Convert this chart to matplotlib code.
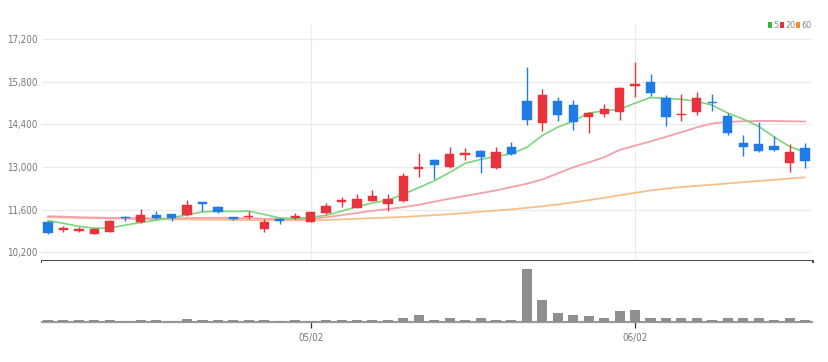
import matplotlib
matplotlib.use("Agg")
import matplotlib.pyplot as plt
from matplotlib.patches import Rectangle
import numpy as np

# ---------------- data ----------------
opens = [11210, 10930, 10910, 10810, 10860, 11370, 11210, 11420, 11450, 11430,
         11850, 11680, 11350, 11350, 10970, 11300, 11310, 11210, 11490, 11850,
         11670, 11890, 11780, 11870, 12940, 13230, 12990, 13400, 13530, 12960,
         13670, 15150, 14440, 15150, 15040, 14650, 14740, 14820, 15670, 15780,
         15260, 14690, 14800, 15130, 14680, 13800, 13750, 13700, 13120, 13620]
highs = [11240, 11070, 11040, 10990, 11250, 11400, 11630, 11570, 11460, 11920,
         11860, 11720, 11370, 11540, 11290, 11310, 11480, 11530, 11830, 12010,
         12120, 12250, 12120, 12800, 13450, 13260, 13670, 13620, 13550, 13670,
         13830, 16290, 15550, 15290, 15190, 14800, 15080, 15620, 16440, 16040,
         15370, 15390, 15450, 15390, 14760, 14050, 14490, 14030, 13750, 13780]
lows = [10800, 10850, 10850, 10790, 10850, 11230, 11170, 11300, 11240, 11400,
        11570, 11500, 11270, 11290, 10880, 11130, 11300, 11200, 11470, 11700,
        11650, 11880, 11560, 11860, 12670, 12600, 12980, 13230, 12800, 12950,
        13400, 14380, 14180, 14520, 14220, 14130, 14630, 14540, 15310, 15340,
        14350, 14520, 14690, 14840, 14050, 13370, 13500, 13510, 12850, 12960]
closes = [10830, 10990, 10950, 10960, 11240, 11320, 11420, 11330, 11330, 11760,
          11800, 11520, 11290, 11390, 11210, 11230, 11400, 11510, 11720, 11890,
          11940, 12050, 11940, 12710, 12980, 13050, 13420, 13440, 13340, 13500,
          13430, 14540, 15370, 14690, 14490, 14760, 14910, 15600, 15710, 15420,
          14630, 14730, 15280, 15090, 14110, 13650, 13530, 13560, 13500, 13180]
prior_closes = [11440, 11440, 11260, 11230]   # closes before the visible window (for MA5)

volumes = [45, 45, 45, 45, 45, 15, 45, 45, 15, 75,
           45, 45, 45, 45, 45, 15, 45, 15, 45, 60,
           60, 60, 60, 108, 183, 60, 108, 60, 108, 60,
           60, 1335, 543, 233, 183, 150, 108, 268, 300, 108,
           108, 108, 108, 60, 100, 108, 108, 60, 100, 60]

ma20 = [11380, 11370, 11350, 11340, 11330, 11320, 11320, 11310, 11310, 11320,
        11330, 11330, 11320, 11320, 11300, 11290, 11290, 11290, 11350, 11420,
        11490, 11560, 11620, 11680, 11760, 11860, 11960, 12050, 12140, 12230,
        12340, 12450, 12590, 12790, 12990, 13150, 13320, 13560, 13700, 13840,
        13990, 14140, 14300, 14430, 14480, 14500, 14510, 14510, 14500, 14490]
ma60 = [11350, 11340, 11330, 11320, 11310, 11300, 11290, 11290, 11280, 11280,
        11270, 11270, 11260, 11260, 11250, 11250, 11250, 11250, 11260, 11280,
        11300, 11320, 11340, 11360, 11390, 11420, 11450, 11490, 11530, 11570,
        11610, 11660, 11710, 11770, 11840, 11910, 11990, 12070, 12150, 12230,
        12290, 12340, 12380, 12420, 12460, 12500, 12540, 12580, 12620, 12660]

date_ticks = [17, 38]
date_labels = ["05/02", "06/02"]
y_ticks = [10200, 11600, 13000, 14400, 15800, 17200]
legend_labels = ["5", "20", "60"]

# ---------------- styling ----------------
RED = "#e8323c"
BLUE = "#1f7be6"
C_MA5 = "#7ad67a"
C_MA20 = "#f3a0aa"
C_MA60 = "#f6c08c"
FONT = ["DejaVu Sans"]

W, H = 829, 362
fig = plt.figure(figsize=(W / 100, H / 100), dpi=100)
fig.patch.set_facecolor("white")

L, R = 42, 812
top_main, bot_main, bot_vol = 25, 261, 322
ax = fig.add_axes([L / W, 1 - bot_main / H, (R - L) / W, (bot_main - top_main) / H])
axv = fig.add_axes([L / W, 1 - bot_vol / H, (R - L) / W, (bot_vol - bot_main) / H])

n = len(closes)
x = np.arange(n)
o = np.array(opens); c = np.array(closes); hi = np.array(highs); lo = np.array(lows)
up = c >= o
cols = np.where(up, RED, BLUE)

# price scale
px = 7000 / (252.3 - 39)
ax.set_ylim(10200 - (bot_main - 252.3) * px, 17200 + (39 - top_main) * px)
xl = (-6 / 15.45, n - 1 + 7 / 15.45)
ax.set_xlim(*xl)
axv.set_xlim(*xl)

# grid
for yt in y_ticks:
    ax.axhline(yt, color="#ebebeb", lw=0.9, zorder=0)
for d in date_ticks:
    ax.axvline(d, color="#ececec", lw=0.9, zorder=0)

# moving averages
allc = np.array(prior_closes + closes, dtype=float)
ma5 = np.convolve(allc, np.ones(5) / 5, mode="valid")
ax.plot(x, ma60, color=C_MA60, lw=1.3, zorder=2)
ax.plot(x, ma20, color=C_MA20, lw=1.3, zorder=2)
ax.plot(x, ma5, color=C_MA5, lw=1.2, zorder=2)

# candles
ax.vlines(x, lo, hi, color=cols, lw=1.0, zorder=3)
minh = 1.6 * px
body_lo = np.minimum(o, c)
body_h = np.maximum(np.abs(c - o), minh)
ax.bar(x, body_h, bottom=body_lo, width=0.6, color=cols, edgecolor=cols, lw=0.3, zorder=4)

ax.set_yticks(y_ticks)
ax.set_yticklabels([f"{v:,}" for v in y_ticks], fontsize=7, color="#777777",
                   family=FONT, fontstretch="condensed")
ax.tick_params(axis="y", length=0, pad=3)
ax.tick_params(axis="x", length=0)
ax.set_xticks([])
for s in ["top", "right", "left"]:
    ax.spines[s].set_visible(False)
ax.spines["bottom"].set_color("#333333")
ax.spines["bottom"].set_linewidth(2.0)

# volume
vmax = max(volumes)
axv.set_ylim(0, vmax * (bot_vol - bot_main) / 53.4)
axv.bar(x, volumes, width=0.65, color="#8f8f8f", zorder=3)
for s in ["top", "right", "left"]:
    axv.spines[s].set_visible(False)
axv.spines["bottom"].set_color("#9a9a9a")
axv.spines["bottom"].set_linewidth(1.6)
axv.set_yticks([])
axv.set_xticks(date_ticks)
axv.set_xticklabels(date_labels, fontsize=7, color="#777777", family=FONT,
                    fontstretch="condensed")
axv.tick_params(axis="x", length=4, width=0.9, color="#333333", pad=4)

# legend (top right): small coloured squares + labels
yl = 25
sq_cols = ["#33bb33", RED, "#f08c28"]
sq_x = [768, 780, 796]
for xp, sc, lab in zip(sq_x, sq_cols, legend_labels):
    fig.add_artist(Rectangle((xp / W, 1 - (yl + 3) / H), 4 / W, 6 / H,
                             transform=fig.transFigure, color=sc, lw=0))
    fig.text((xp + 5) / W, 1 - yl / H, lab, color="#888888", fontsize=6.5,
             va="center", ha="left", family=FONT, fontstretch="condensed")

fig.savefig("out.png", dpi=100, facecolor="white")
